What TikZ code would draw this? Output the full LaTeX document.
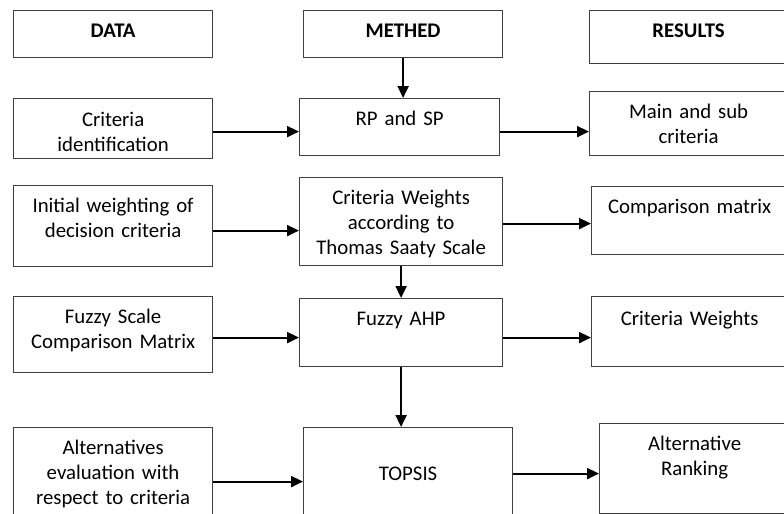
\documentclass[tikz,border=0pt]{standalone}
\usepackage{fontspec}
\setmainfont{Carlito}
\usetikzlibrary{arrows.meta}
\begin{document}
\begin{tikzpicture}[x=0.5pt,y=-0.5pt,
  box/.style={draw=black!75,line width=0.6pt,inner sep=0pt,anchor=north west,align=center,
    font=\fontsize{10.4pt}{12.5pt}\selectfont},
  head/.style={box,font=\fontsize{10.4pt}{12.5pt}\selectfont\bfseries},
  arr/.style={-{Triangle[length=6pt,width=5.5pt]},line width=1pt}]
\clip (0,0) rectangle (784,514);
\node[head,text width=99.5pt,text height=13.5pt,text depth=10pt] (data) at (13,10) {DATA};
\node[head,text width=99.5pt,text height=13.5pt,text depth=10pt] (meth) at (303,10) {METHED};
\node[head,text width=99pt,text height=13.5pt,text depth=13pt] (res) at (589,10) {RESULTS};
\node[box,text width=99.5pt,text height=14pt,text depth=16pt] (cid) at (13,98) {Criteria\\identification};
\node[box,text width=100pt,text height=13.5pt,text depth=15pt] (rpsp) at (299,98) {RP and SP};
\node[box,text width=99pt,text height=13.5pt,text depth=18.5pt] (mas) at (589,91) {Main and sub\\criteria};
\node[box,text width=99.5pt,text height=13.5pt,text depth=27pt] (iwd) at (13,185) {Initial weighting of\\decision criteria};
\node[box,text width=101.5pt,text height=13.5pt,text depth=30.5pt] (cw) at (299,177) {Criteria Weights\\according to\\Thomas Saaty Scale};
\node[box,text width=98pt,text height=13.5pt,text depth=20.5pt] (cm) at (591,186) {Comparison matrix};
\node[box,text width=99.5pt,text height=13.5pt,text depth=24.5pt] (fsc) at (13,296) {Fuzzy Scale\\Comparison Matrix};
\node[box,text width=101.5pt,text height=13.5pt,text depth=20.5pt] (fahp) at (299,298) {Fuzzy AHP};
\node[box,text width=98pt,text height=14.5pt,text depth=20.5pt] (crw) at (591,296) {Criteria Weights};
\node[box,text width=99.5pt,text height=13.5pt,text depth=38pt] (alt) at (13,427) {Alternatives\\evaluation with\\respect to criteria};
\node[box,text width=104.5pt,text height=26.5pt,text depth=25pt] (tops) at (303,427) {TOPSIS};
\node[box,text width=95pt,text height=13.5pt,text depth=31.5pt] (ark) at (599,423) {Alternative\\Ranking};
\draw[arr] (meth.south) -- (meth.south |- rpsp.north);
\draw[arr] ([yshift=-1.5pt]cid.east) -- ([yshift=-1.5pt]cid.east -| rpsp.west);
\draw[arr] ([yshift=-2.25pt]rpsp.east) -- ([yshift=-2.25pt]rpsp.east -| mas.west);
\draw[arr] ([yshift=-2.25pt]iwd.east) -- ([yshift=-2.25pt]iwd.east -| cw.west);
\draw[arr] ([yshift=-1pt]cw.east) -- ([yshift=-1pt]cw.east -| cm.west);
\draw[arr] (cw.south) -- (cw.south |- fahp.north);
\draw[arr] ([yshift=-1.5pt]fsc.east) -- ([yshift=-1.5pt]fsc.east -| fahp.west);
\draw[arr] ([yshift=-2.5pt]fahp.east) -- ([yshift=-2.5pt]fahp.east -| crw.west);
\draw[arr] (fahp.south) -- (fahp.south |- tops.north);
\draw[arr] ([yshift=-1.25pt]alt.east) -- ([yshift=-1.25pt]alt.east -| tops.west);
\draw[arr] ([yshift=2.75pt]tops.east) -- ([yshift=2.75pt]tops.east -| ark.west);
\end{tikzpicture}
\end{document}
